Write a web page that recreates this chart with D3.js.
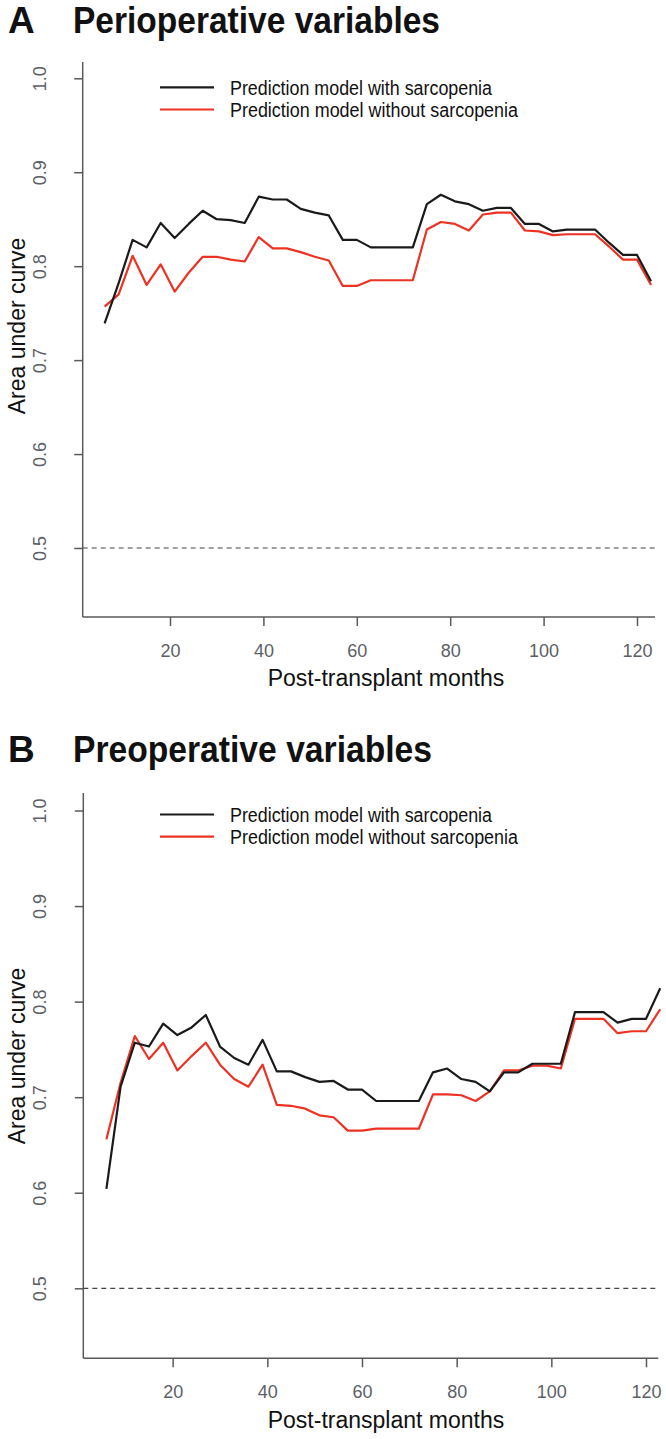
<!DOCTYPE html>
<html>
<head>
<meta charset="utf-8">
<script src="https://cdn.jsdelivr.net/npm/d3@7"></script>
<style>
  html, body { margin: 0; padding: 0; background: #fff; }
  svg { display: block; }
  text { font-family: "Liberation Sans", Arial, Helvetica, sans-serif; }
</style>
</head>
<body>
<svg id="chart" width="666" height="1439"></svg>
<script>
// ---- Data ----
const months = [6, 9, 12, 15, 18, 21, 24, 27, 30, 33, 36, 39, 42, 45, 48, 51, 54, 57, 60, 63,
                66, 69, 72, 75, 78, 81, 84, 87, 90, 93, 96, 99, 102, 105, 108, 111, 114, 117, 120, 123];

const periWithSarcopenia = [0.739, 0.782, 0.828, 0.820, 0.846, 0.830, 0.845, 0.859, 0.850, 0.849,
                            0.846, 0.874, 0.871, 0.871, 0.861, 0.857, 0.854, 0.828, 0.828, 0.820,
                            0.820, 0.820, 0.820, 0.866, 0.876, 0.869, 0.866, 0.859, 0.862, 0.862,
                            0.845, 0.845, 0.837, 0.839, 0.839, 0.839, 0.825, 0.812, 0.812, 0.784];
const periWithoutSarcopenia = [0.757, 0.770, 0.811, 0.780, 0.802, 0.773, 0.793, 0.810, 0.810, 0.807,
                               0.805, 0.831, 0.819, 0.819, 0.815, 0.810, 0.806, 0.779, 0.779, 0.785,
                               0.785, 0.785, 0.785, 0.839, 0.847, 0.845, 0.838, 0.855, 0.857, 0.857,
                               0.838, 0.837, 0.833, 0.834, 0.834, 0.834, 0.821, 0.807, 0.807, 0.780];
const preWithSarcopenia = [0.604, 0.711, 0.757, 0.753, 0.777, 0.765, 0.773, 0.786, 0.753, 0.741,
                           0.734, 0.760, 0.727, 0.727, 0.721, 0.716, 0.717, 0.708, 0.708, 0.696,
                           0.696, 0.696, 0.696, 0.726, 0.730, 0.719, 0.716, 0.706, 0.726, 0.726,
                           0.735, 0.735, 0.735, 0.789, 0.789, 0.789, 0.778, 0.782, 0.782, 0.814];
const preWithoutSarcopenia = [0.656, 0.715, 0.764, 0.740, 0.757, 0.728, 0.743, 0.757, 0.734, 0.719,
                              0.711, 0.734, 0.692, 0.691, 0.688, 0.681, 0.679, 0.665, 0.665, 0.667,
                              0.667, 0.667, 0.667, 0.703, 0.703, 0.702, 0.696, 0.706, 0.728, 0.728,
                              0.733, 0.733, 0.730, 0.782, 0.782, 0.782, 0.767, 0.769, 0.769, 0.792];

const xTicks = [20, 40, 60, 80, 100, 120];
const yTicks = [0.5, 0.6, 0.7, 0.8, 0.9, 1.0];
const seriesNames = ["Prediction model with sarcopenia", "Prediction model without sarcopenia"];
const panelLetters = ["A", "B"];
const panelTitles = ["Perioperative variables", "Preoperative variables"];
const referenceAUC = 0.5;
const xTitle = "Post-transplant months";
const yTitle = "Area under curve";

// ---- Layout ----
const panels = [
  { letter: panelLetters[0], title: panelTitles[0], withS: periWithSarcopenia, withoutS: periWithoutSarcopenia,
    titleY: 33.3, titleLen: 367, x0: 76.6, x120: 637, axisLeft: 82.7, axisRight: 655,
    y05: 548, y10: 78.3, axisTop: 62, axisBottom: 617,
    legendY: [87.3, 109.5], yTitleY: 326, xTitleY: 686 },
  { letter: panelLetters[1], title: panelTitles[1], withS: preWithSarcopenia, withoutS: preWithoutSarcopenia,
    titleY: 761.5, titleLen: 359, x0: 78.0, x120: 646, axisLeft: 83.3, axisRight: 658.3,
    y05: 1288.3, y10: 810.5, axisTop: 793, axisBottom: 1358.3,
    legendY: [814.5, 836.7], yTitleY: 1056, xTitleY: 1428 }
];
const legendLens = [262, 288];

const svg = d3.select("#chart");
const colBlack = "#1a1a1a";
const colRed = "#ec3223";
const axisCol = "#5a5a5a";
const tickTextCol = "#5c5f66";

panels.forEach(p => {
  const g = svg.append("g");
  const x = d3.scaleLinear().domain([0, 120]).range([p.x0, p.x120]);
  const y = d3.scaleLinear().domain([0.5, 1.0]).range([p.y05, p.y10]);

  // Panel title
  g.append("text").attr("x", 8).attr("y", p.titleY)
    .attr("font-size", 37).attr("font-weight", "bold").attr("fill", "#111")
    .text(p.letter);
  g.append("text").attr("x", 73).attr("y", p.titleY)
    .attr("font-size", 36).attr("font-weight", "bold").attr("fill", "#111")
    .attr("textLength", p.titleLen).attr("lengthAdjust", "spacingAndGlyphs")
    .text(p.title);

  // Axes lines (bty = "l")
  g.append("line").attr("x1", p.axisLeft).attr("x2", p.axisLeft)
    .attr("y1", p.axisTop).attr("y2", p.axisBottom)
    .attr("stroke", axisCol).attr("stroke-width", 1.5);
  g.append("line").attr("x1", p.axisLeft).attr("x2", p.axisRight)
    .attr("y1", p.axisBottom).attr("y2", p.axisBottom)
    .attr("stroke", axisCol).attr("stroke-width", 1.5);

  // X axis ticks
  const xAxis = d3.axisBottom(x).tickValues(xTicks).tickSize(9).tickFormat(d3.format("d"));
  const gx = g.append("g").attr("transform", `translate(0,${p.axisBottom})`).call(xAxis);
  gx.select(".domain").remove();
  gx.selectAll(".tick line").attr("stroke", axisCol).attr("stroke-width", 1.5);
  gx.selectAll(".tick text").attr("font-size", 18).attr("fill", tickTextCol)
    .attr("font-family", "'Liberation Sans', Arial, sans-serif")
    .attr("dy", null).attr("y", 39.5);

  // Y axis ticks with rotated labels
  const yAxis = d3.axisLeft(y).tickValues(yTicks).tickSize(8.5).tickFormat(d3.format(".1f"));
  const gy = g.append("g").attr("transform", `translate(${p.axisLeft},0)`).call(yAxis);
  gy.select(".domain").remove();
  gy.selectAll(".tick line").attr("stroke", axisCol).attr("stroke-width", 1.5);
  gy.selectAll(".tick text").attr("font-size", 18).attr("fill", tickTextCol)
    .attr("font-family", "'Liberation Sans', Arial, sans-serif")
    .attr("x", null).attr("dy", null)
    .attr("text-anchor", "middle")
    .attr("transform", "translate(-37,0) rotate(-90)");

  // Reference line at 0.5
  g.append("line").attr("x1", p.axisLeft).attr("x2", p.axisRight)
    .attr("y1", y(referenceAUC)).attr("y2", y(referenceAUC))
    .attr("stroke", "#444").attr("stroke-width", 1.2).attr("stroke-dasharray", "5,4");

  // Lines
  const line = d3.line().x((d, i) => x(months[i])).y(d => y(d));
  g.append("path").datum(p.withoutS).attr("d", line)
    .attr("fill", "none").attr("stroke", colRed).attr("stroke-width", 2.2).attr("stroke-linejoin", "round");
  g.append("path").datum(p.withS).attr("d", line)
    .attr("fill", "none").attr("stroke", colBlack).attr("stroke-width", 2.2).attr("stroke-linejoin", "round");

  // Legend
  [colBlack, colRed].forEach((c, i) => {
    g.append("line").attr("x1", 160).attr("x2", 214)
      .attr("y1", p.legendY[i]).attr("y2", p.legendY[i])
      .attr("stroke", c).attr("stroke-width", 2.2);
    g.append("text").attr("x", 230).attr("y", p.legendY[i] + 7.5)
      .attr("font-size", 19.5).attr("fill", "#111")
      .attr("textLength", legendLens[i]).attr("lengthAdjust", "spacingAndGlyphs")
      .text(seriesNames[i]);
  });

  // Axis titles
  g.append("text").attr("x", 386).attr("y", p.xTitleY)
    .attr("text-anchor", "middle").attr("font-size", 23).attr("fill", "#111")
    .text(xTitle);
  g.append("text").attr("transform", `translate(25,${p.yTitleY}) rotate(-90)`)
    .attr("text-anchor", "middle").attr("font-size", 23).attr("fill", "#111")
    .text(yTitle);
});
</script>
</body>
</html>
